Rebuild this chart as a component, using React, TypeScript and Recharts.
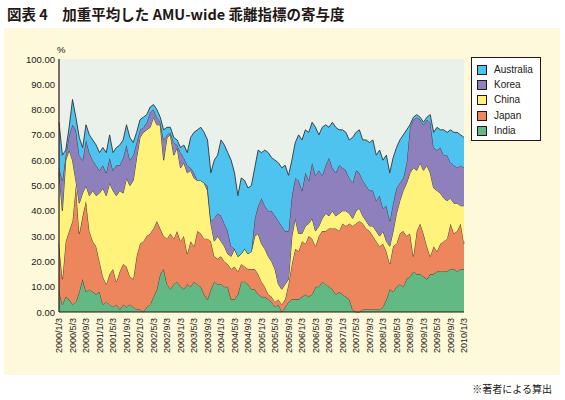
import React from 'react';
import { AreaChart, Area, XAxis, YAxis, CartesianGrid } from 'recharts';

// Month index 0 = 2000/1/3 ... 120 = 2010/1/3 (monthly readings)
const india = [8,3,6,5,3,4,8,13,8,9,8,7,8,3,4,3,2,3,1,3,2,3,2,1,1,0,2,3,6,9,15,17,11,9,11,12,10,9,11,10,12,11,10,7,5,9,12,11,11,10,10,5,5,7,12,12,11,9,9,7,6,6,5,4,2,3,0,2,4,5,5,5,6,7,6,7,10,10,12,11,10,9,7,8,7,6,5,1,0,0,1,1,1,1,1,1,2,5,9,8,10,11,10,13,14,16,15,15,14,13,15,15,16,16,16,16,17,17,16,17,17];
const japan = [19,10,22,27,33,46,23,25,36,23,20,19,12,11,7,12,15,9,15,16,16,11,11,21,26,28,28,28,27,27,18,13,18,22,18,20,18,21,12,18,14,21,21,22,24,19,10,10,11,10,9,12,13,9,7,6,6,8,8,8,6,4,2,2,2,2,3,3,7,14,20,19,22,20,24,22,16,20,20,21,23,24,26,24,28,28,30,33,35,36,34,32,31,29,27,25,25,19,10,18,17,20,22,17,17,6,17,20,17,13,7,11,8,11,12,13,18,14,16,18,10];
const china = [28,27,32,32,24,2,12,9,6,14,20,20,27,35,35,36,31,34,32,28,35,36,39,39,42,43,42,42,44,38,41,30,40,39,33,33,29,29,32,28,27,20,21,22,19,7,6,9,6,6,4,5,7,6,4,7,6,7,13,16,15,15,15,14,13,6,6,6,2,11,12,7,3,7,5,8,6,4,5,7,5,7,5,7,5,6,4,3,5,5,3,3,2,4,4,4,5,4,7,6,12,13,16,21,24,35,24,24,25,32,33,23,24,20,17,15,10,12,11,7,15];
const korea = [2,12,2,6,14,20,19,13,18,17,12,12,9,9,9,10,8,12,10,14,13,10,10,6,3,2,3,6,3,3,1,8,1,1,5,1,6,2,3,1,2,0,0,0,2,1,9,9,10,9,9,4,0,0,0,0,0,0,7,11,18,17,18,20,21,25,25,21,19,16,16,21,17,21,17,22,22,22,17,19,23,17,17,19,17,16,14,14,16,14,14,14,14,14,12,16,9,14,10,11,10,7,5,8,18,19,21,17,18,18,20,16,16,18,17,18,14,15,14,16,15];
const australia = [18,10,2,3,10,5,7,5,6,7,8,8,7,7,8,9,7,7,8,7,8,9,5,4,4,4,3,2,2,3,2,4,3,2,2,2,2,5,5,12,16,20,21,20,18,19,23,23,30,31,31,34,30,24,30,27,26,26,20,22,18,22,23,21,22,23,23,26,22,14,14,18,20,17,19,16,19,14,19,16,12,18,18,14,15,15,15,18,15,17,16,18,19,20,18,18,19,20,19,18,16,17,17,13,1,1,1,1,1,1,3,6,9,7,10,9,13,13,14,12,12];

const tickLabels = [
  '2000/1/3','2000/5/3','2000/9/3','2001/1/3','2001/5/3','2001/9/3','2002/1/3','2002/5/3',
  '2002/9/3','2003/1/3','2003/5/3','2003/9/3','2004/1/3','2004/5/3','2004/9/3','2005/1/3',
  '2005/5/3','2005/9/3','2006/1/3','2006/5/3','2006/9/3','2007/1/3','2007/5/3','2007/9/3',
  '2008/1/3','2008/5/3','2008/9/3','2009/1/3','2009/5/3','2009/9/3','2010/1/3'
];
const yTicks = [0,10,20,30,40,50,60,70,80,90,100];

const seriesNames = ['India','Japan','China','Korea','Australia'];
const seriesColors = ['#63B983','#EE865D','#FFF37C','#8D80BC','#4FC3F0'];
const seriesValues = [india, japan, china, korea, australia];

const data = india.map((_, i) => {
  const row: Record<string, number> = { m: i };
  seriesNames.forEach((n, k) => { row[n] = seriesValues[k][i]; });
  return row;
});
const xTicks = tickLabels.map((_, i) => i * 4);

const INK = '#231815';
const FONT = '"Liberation Sans", Arial, sans-serif';

const XTick = (props: any) => {
  const { x, y, payload } = props;
  const label = tickLabels[Math.round(payload.value / 4)];
  return (
    <text x={x} y={y} transform={`rotate(-90 ${x} ${y})`} textAnchor="end" dominantBaseline="central"
      fontSize={9} fill={INK} fontFamily={FONT}>{label}</text>
  );
};

const YTick = (props: any) => {
  const { x, y, payload } = props;
  return (
    <text x={x} y={y} textAnchor="end" dominantBaseline="central" fontSize={9.5} fill={INK} fontFamily={FONT}>
      {Number(payload.value).toFixed(2)}
    </text>
  );
};

const LegendBox = () => {
  const order = [4, 3, 2, 1, 0];
  return (
    <div style={{ position: 'absolute', left: 471, top: 57, width: 70, height: 84, border: `1px solid ${INK}`, background: '#FFFFFF', boxSizing: 'border-box', paddingTop: 4 }}>
      {order.map((k) => (
        <div key={seriesNames[k]} style={{ display: 'flex', alignItems: 'center', height: 15.3, paddingLeft: 5 }}>
          <span style={{ display: 'inline-block', width: 8, height: 8, background: seriesColors[k], border: `1px solid ${INK}`, marginRight: 7 }} />
          <span style={{ fontFamily: FONT, fontSize: 10, color: INK, lineHeight: '10px' }}>{seriesNames[k]}</span>
        </div>
      ))}
    </div>
  );
};

export default function App() {
  return (
    <div style={{ position: 'absolute', left: 0, top: 0, width: 565, height: 400, background: '#FFFFFF', overflow: 'hidden' }}>
      <div style={{ position: 'absolute', left: 7, top: 5, fontFamily: '"Noto Sans CJK JP", sans-serif', fontWeight: 700, fontSize: 14.5, color: INK, whiteSpace: 'nowrap', lineHeight: '18px' }}>
        図表 4　加重平均した AMU-wide 乖離指標の寄与度
      </div>
      <div style={{ position: 'absolute', left: 4, top: 28, width: 556, height: 347, background: '#FFF9DB' }} />
      <div style={{ position: 'absolute', left: 57, top: 44, fontFamily: FONT, fontSize: 9.5, color: INK }}>%</div>
      <div style={{ position: 'absolute', left: 0, top: 0 }}>
        <AreaChart width={565} height={400} data={data} margin={{ top: 59, right: 101, bottom: 28, left: 9 }}>
          <CartesianGrid horizontal={false} vertical={false} fill="#EAF1EA" />
          {seriesNames.map((n, k) => (
            <Area key={n} type="linear" dataKey={n} stackId="s" stroke="#333333" strokeWidth={0.9}
              fill={seriesColors[k]} fillOpacity={1} isAnimationActive={false} dot={false} activeDot={false} />
          ))}
          <XAxis dataKey="m" type="number" domain={[0, 120]} ticks={xTicks} interval={0} height={60}
            tick={<XTick />} tickLine={false} tickSize={0} tickMargin={6} axisLine={{ stroke: INK, strokeWidth: 1.2 }} />
          <XAxis xAxisId="top" orientation="top" dataKey="m" type="number" domain={[0, 120]} height={0}
            tick={false} tickLine={false} axisLine={{ stroke: INK, strokeWidth: 1.2 }} />
          <YAxis type="number" domain={[0, 100]} ticks={yTicks} interval={0} width={50}
            tick={<YTick />} tickLine={false} tickSize={0} tickMargin={4} axisLine={{ stroke: INK, strokeWidth: 1.2 }} />
          <YAxis yAxisId="right" orientation="right" domain={[0, 100]} width={0}
            tick={false} tickLine={false} axisLine={{ stroke: INK, strokeWidth: 1.2 }} />
        </AreaChart>
      </div>
      <LegendBox />
      <div style={{ position: 'absolute', right: 13, top: 381, fontFamily: '"Noto Sans CJK JP", sans-serif', fontSize: 10, color: INK, whiteSpace: 'nowrap' }}>
        ※著者による算出
      </div>
    </div>
  );
}
